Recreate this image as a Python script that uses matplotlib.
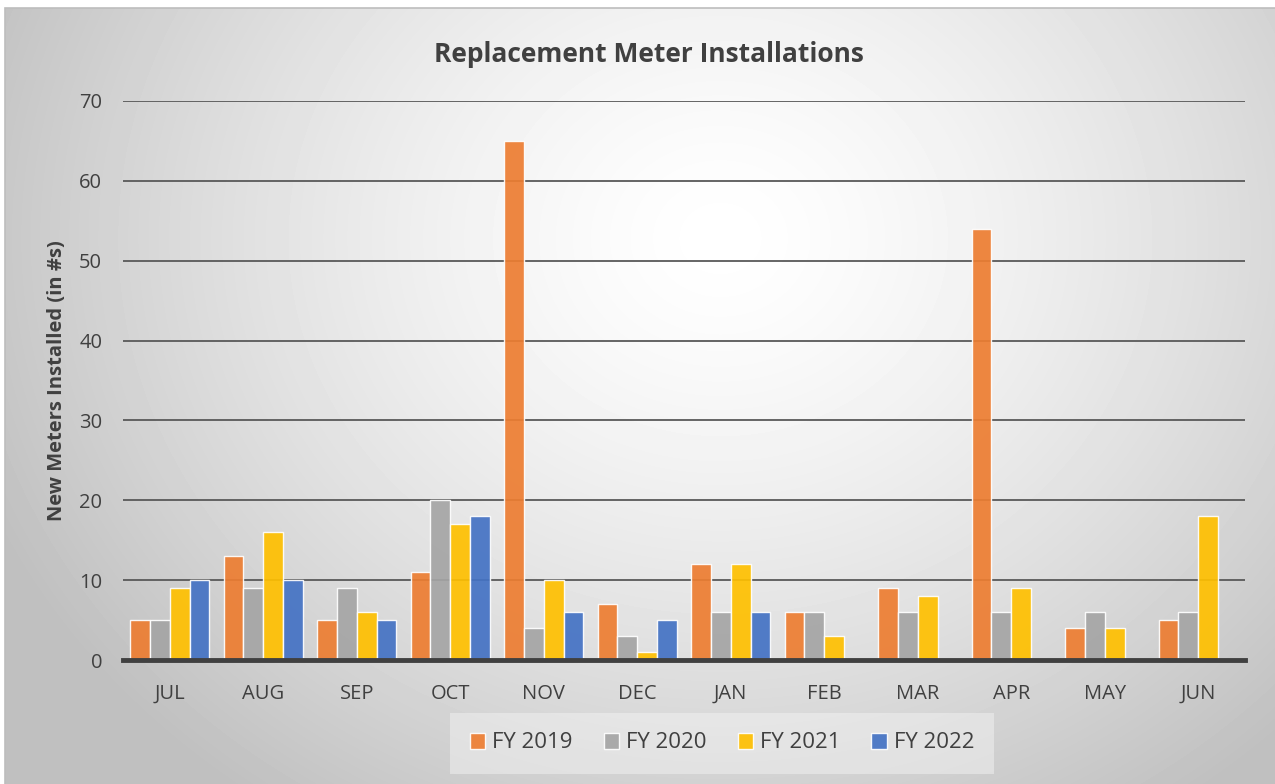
import matplotlib.pyplot as plt
import numpy as np
from matplotlib.patches import Rectangle

months = ["JUL", "AUG", "SEP", "OCT", "NOV", "DEC", "JAN", "FEB", "MAR", "APR", "MAY", "JUN"]
fy2019 = [5, 13, 5, 11, 65, 7, 12, 6, 9, 54, 4, 5]
fy2020 = [5, 9, 9, 20, 4, 3, 6, 6, 6, 6, 6, 6]
fy2021 = [9, 16, 6, 17, 10, 1, 12, 3, 8, 9, 4, 18]
fy2022 = [10, 10, 5, 18, 6, 5, 6, np.nan, np.nan, np.nan, np.nan, np.nan]
series_names = ["FY 2019", "FY 2020", "FY 2021", "FY 2022"]
colors = ["#ED7D31", "#A5A5A5", "#FFC000", "#4472C4"]

plt.rcParams['font.family'] = ['Open Sans', 'DejaVu Sans']

W, H = 1275, 784
fig = plt.figure(figsize=(W / 100, H / 100), dpi=100)
fig.patch.set_facecolor("white")

# radial gradient background
bg = fig.add_axes([5 / W, 0, 1 - 5 / W, 1 - 8 / H], zorder=-5)
yy, xx = np.mgrid[0:776, 0:1270]
cx, cy = 715, 230
r = np.sqrt((xx - cx) ** 2 + ((yy - cy) * 1.15) ** 2)
v = 1.0 - 0.25 * np.clip(r / 800.0, 0, 1) ** 1.4
bg.imshow(v, cmap="gray", vmin=0, vmax=1, aspect="auto", interpolation="bilinear")
bg.set_axis_off()
fig.patches.append(Rectangle((5 / W, -0.01), 1, 1 - 8 / H + 0.01, transform=fig.transFigure,
                             fill=False, edgecolor="#bdbdbd", linewidth=1.2, zorder=-4))

ax = fig.add_axes([123 / W, 1 - 660 / H, 1122 / W, 559 / H])
ax.set_facecolor("none")

x = np.arange(len(months))
w = 0.212
for i, (vals, c, name) in enumerate(zip([fy2019, fy2020, fy2021, fy2022], colors, series_names)):
    ax.bar(x + (i - 1.5) * w, vals, width=w, color=c, alpha=0.92,
           edgecolor=(1, 1, 1, 0.55), linewidth=1.0, label=name, zorder=3)

ax.set_xlim(-0.5, 11.5)
ax.set_ylim(0, 70)
ax.set_yticks(range(0, 71, 10))
ax.set_xticks(x)
ax.set_xticklabels(months)
ax.yaxis.grid(True, color=(0.35, 0.35, 0.35, 0.28), linewidth=1.3, zorder=4)
ax.set_axisbelow(False)
for s in ["top", "right", "left"]:
    ax.spines[s].set_visible(False)
ax.spines["bottom"].set_color("#404040")
ax.spines["bottom"].set_linewidth(3.5)
ax.spines["bottom"].set_zorder(5)
ax.tick_params(axis="both", length=0, labelsize=14.5, colors="#404040")
ax.tick_params(axis="y", pad=15)
ax.tick_params(axis="x", pad=17)

ax.set_ylabel("New Meters Installed (in #s)", fontsize=14.5, fontweight="bold", color="#404040", labelpad=9)
fig.text(649 / W, 1 - 55 / H, "Replacement Meter Installations", ha="center", va="center",
         fontsize=19, fontweight="bold", color="#404040")

leg = ax.legend(loc="center", bbox_to_anchor=(722 / W, 1 - 743 / H), bbox_transform=fig.transFigure,
                ncol=4, fontsize=16, frameon=True, handlelength=0.7, handleheight=0.7,
                handletextpad=0.3, columnspacing=1.4, borderpad=0.9)
leg.get_frame().set_facecolor("#f6f6f6")
leg.get_frame().set_edgecolor("none")
leg.get_frame().set_alpha(0.45)
leg.get_frame().set_boxstyle("square", pad=0.0)
for t in leg.get_texts():
    t.set_color("#404040")

fig.savefig("out.png", dpi=100)
